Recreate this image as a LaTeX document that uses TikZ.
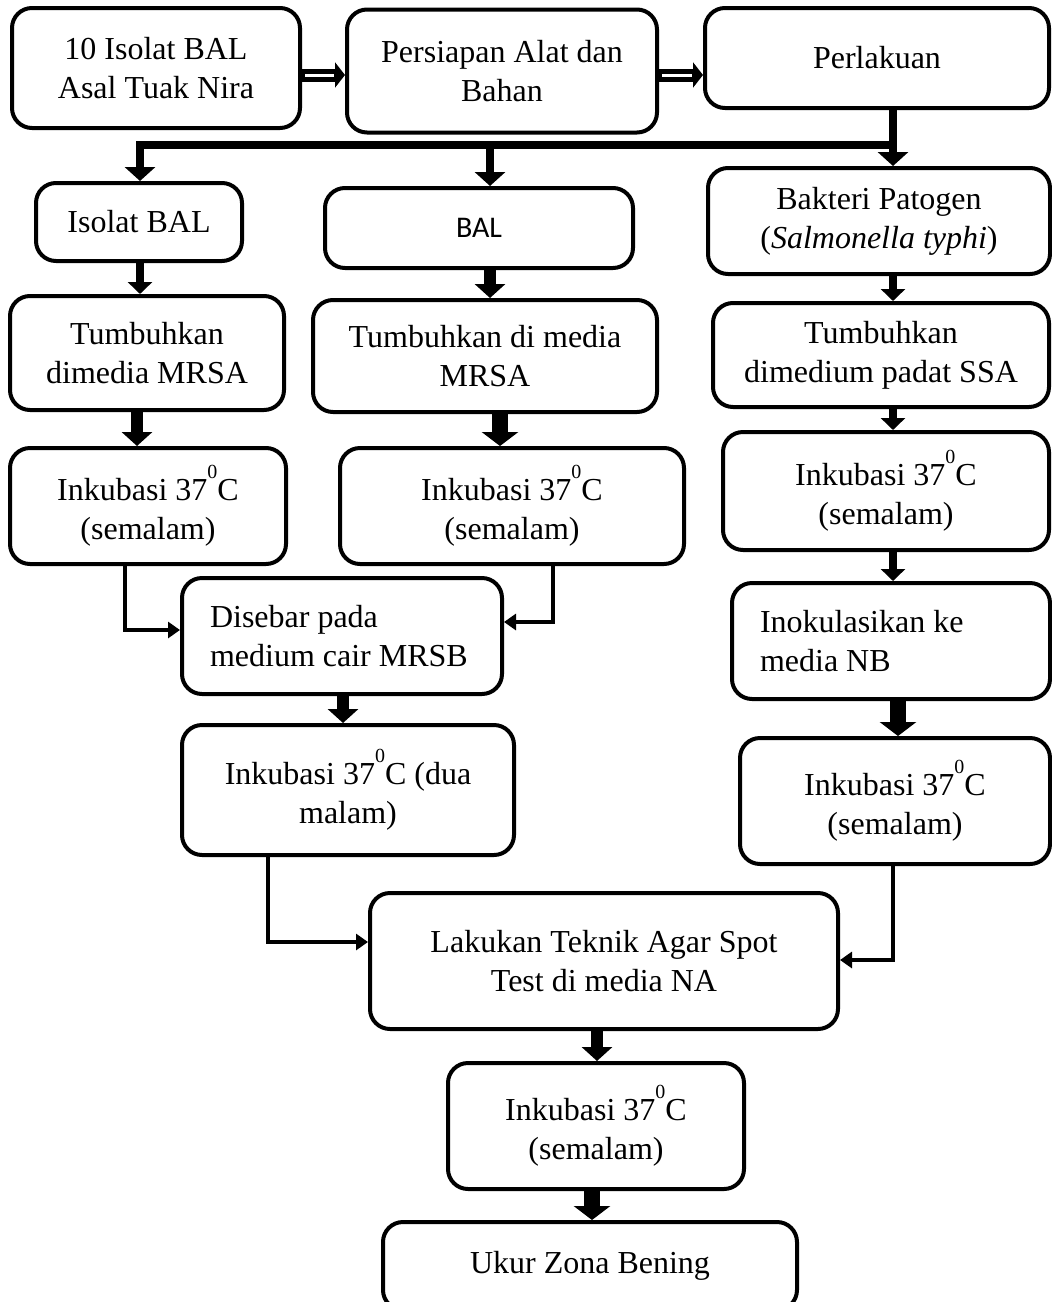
\documentclass[tikz,border=0pt]{standalone}
\usepackage{fontspec}
\setmainfont{Liberation Serif}
\newfontfamily\calibri{Carlito}
\usetikzlibrary{arrows.meta}
\newcommand{\derajat}{\raisebox{0.68em}{\fontsize{10}{10}\selectfont 0}}

\begin{document}
\begin{tikzpicture}[x=0.5pt,y=-0.5pt,
  box/.style={draw,line width=2pt,rounded corners=10pt,align=center,inner sep=0pt,font=\fontsize{16}{19.5}\selectfont},
  lbox/.style={box,align=flush left,inner xsep=14pt},
  thin/.style={line width=2pt,line join=miter,-{Triangle[width=8pt,length=6pt]}},
  mid/.style={line width=4pt,-{Triangle[width=12pt,length=6pt]}},
  wide/.style={line width=6pt,-{Triangle[width=15pt,length=7pt]}},
  fat/.style={line width=8pt,-{Triangle[width=18pt,length=7pt]}},
  trunk/.style={line width=4pt,line join=miter,-{Triangle[width=15pt,length=7pt]}},
  hollow/.style={line width=6.5pt,-{Triangle[width=12.5pt,length=5pt]},
    postaction={draw=white,line width=1.5pt,-,shorten >=5.5pt,shorten <=1.5pt}}]
\useasboundingbox (0,0) rectangle (1052,1302);

\node[box,minimum width=144pt,minimum height=60pt] (isolat) at (156,68) {10 Isolat BAL\\Asal Tuak Nira};
\node[box,minimum width=155pt,minimum height=61.5pt] (persiapan) at (502,71) {Persiapan Alat dan\\Bahan};
\node[box,minimum width=172pt,minimum height=50pt] (perlakuan) at (877,58) {Perlakuan};
\node[box,minimum width=103pt,minimum height=39pt] (isolatbal) at (139,222) {Isolat BAL};
\node[box,minimum width=154pt,minimum height=40pt,font=\calibri\fontsize{15}{18}\selectfont] (bal) at (479,228) {BAL};
\node[box,minimum width=171pt,minimum height=53pt] (patogen) at (879,221) {Bakteri Patogen\\(\textit{Salmonella typhi})};
\node[box,minimum width=137pt,minimum height=57pt] (tumbuh1) at (147,353) {Tumbuhkan\\dimedia MRSA};
\node[box,minimum width=172pt,minimum height=56pt] (tumbuh2) at (485,356) {Tumbuhkan di media\\MRSA};
\node[box,minimum width=168pt,minimum height=52pt] (tumbuh3) at (881,355) {Tumbuhkan\\dimedium padat SSA};
\node[box,minimum width=138pt,minimum height=58pt] (inkub1) at (148,506) {Inkubasi 37\derajat C\\(semalam)};
\node[box,minimum width=172pt,minimum height=58pt] (inkub2) at (512,506) {Inkubasi 37\derajat C\\(semalam)};
\node[box,minimum width=163pt,minimum height=59pt] (inkub3) at (886,491) {Inkubasi 37\derajat C\\(semalam)};
\node[lbox,text width=132pt,minimum height=58pt] (sebar) at (342,636) {Disebar pada\\medium cair MRSB};
\node[lbox,text width=131pt,minimum height=58pt] (inokulasi) at (891,641) {Inokulasikan ke\\media NB};
\node[box,minimum width=166pt,minimum height=65pt] (inkub4) at (348,790) {Inkubasi 37\derajat C (dua\\malam)};
\node[box,minimum width=155pt,minimum height=63pt] (inkub5) at (895,801) {Inkubasi 37\derajat C\\(semalam)};
\node[box,minimum width=234pt,minimum height=68pt] (spot) at (604,961) {Lakukan Teknik Agar Spot\\Test di media NA};
\node[box,minimum width=148pt,minimum height=63pt] (inkub6) at (596,1126) {Inkubasi 37\derajat C\\(semalam)};
\node[box,minimum width=207pt,minimum height=44pt] (zona) at (590,1266) {Ukur Zona Bening};

\draw[hollow] (isolat.east |- 0,75) -- (persiapan.west |- 0,75);
\draw[hollow] (persiapan.east |- 0,75) -- (perlakuan.west |- 0,75);

\coordinate (fork) at (893,145);
\draw[trunk] (perlakuan.south -| fork) -- (patogen.north -| fork);
\draw[trunk] (895,145) -- (140,145) -- (isolatbal.north -| 140,0);
\draw[trunk] (490,145) -- (bal.north -| 490,0);

\draw[mid] (isolatbal.south -| 140,0) -- (tumbuh1.north -| 140,0);
\draw[wide] (tumbuh1.south -| 137,0) -- (inkub1.north -| 137,0);
\draw[thin] (inkub1.south -| 125,0) -- (125,630) -- (sebar.west |- 0,630);

\draw[wide] (bal.south -| 490,0) -- (tumbuh2.north -| 490,0);
\draw[fat] (tumbuh2.south -| 500,0) -- (inkub2.north -| 500,0);
\draw[thin] (inkub2.south -| 553,0) -- (553,622) -- (sebar.east |- 0,622);

\draw[mid] (patogen.south -| 893,0) -- (tumbuh3.north -| 893,0);
\draw[mid] (tumbuh3.south -| 893,0) -- (inkub3.north -| 893,0);
\draw[mid] (inkub3.south -| 893,0) -- (inokulasi.north -| 893,0);
\draw[fat] (inokulasi.south -| 898,0) -- (inkub5.north -| 898,0);

\draw[wide] (sebar.south -| 343,0) -- (inkub4.north -| 343,0);
\draw[thin] (inkub4.south -| 268,0) -- (268,942) -- (spot.west |- 0,942);
\draw[thin] (inkub5.south -| 893,0) -- (893,960) -- (spot.east |- 0,960);

\draw[wide] (spot.south -| 597,0) -- (inkub6.north -| 597,0);
\draw[fat] (inkub6.south -| 592,0) -- (zona.north -| 592,0);
\end{tikzpicture}
\end{document}
